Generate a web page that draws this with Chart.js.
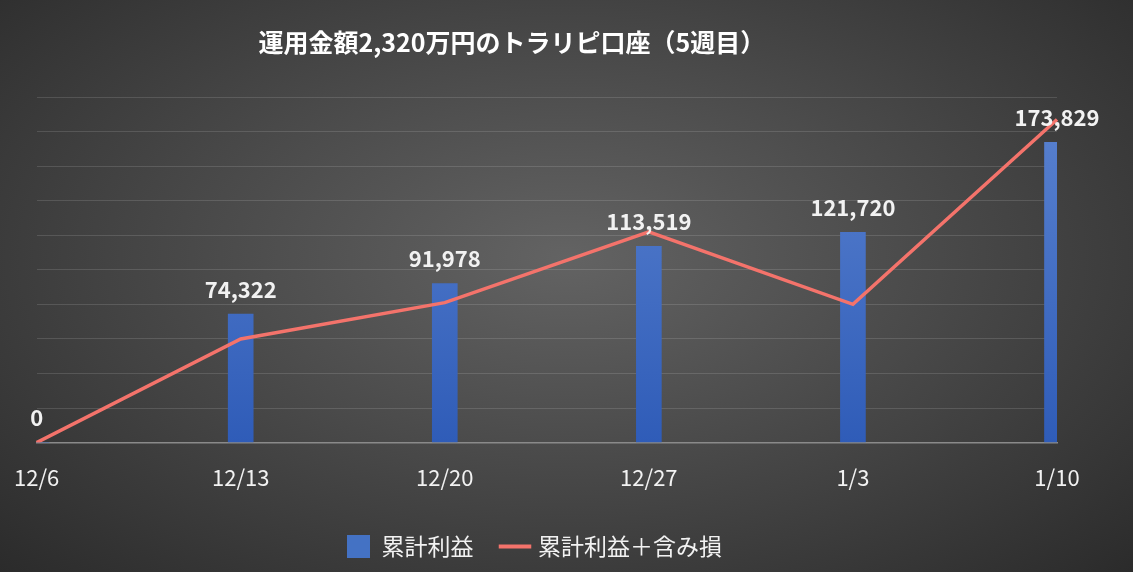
<!DOCTYPE html>
<html><head><meta charset="utf-8">
<script src="https://cdn.jsdelivr.net/npm/chart.js@4"></script>
<style>
html,body{margin:0;padding:0;}
#wrap{width:1133px;height:572px;background:radial-gradient(ellipse at 50% 45%,#636363 0%,#4a4a4a 45%,#2b2b2b 100%);}
</style></head><body>
<div id="wrap"><canvas id="c" width="1133" height="572"></canvas></div>
<script>
const categories=['12/6','12/13','12/20','12/27','1/3','1/10'];
const profit=[0,74322,91978,113519,121720,173829];
const profitWithUnrealized=[0,60000,81000,122000,80000,187000];
const title='運用金額2,320万円のトラリピ口座（5週目）';
const F='"Noto Sans CJK JP","Noto Sans",sans-serif';

const labelPlugin={id:'lbl',afterDatasetsDraw(ch){
  const ctx=ch.ctx,meta=ch.getDatasetMeta(0);
  ctx.save();ctx.fillStyle='#f2f2f2';ctx.font='bold 22px '+F;ctx.textAlign='center';ctx.textBaseline='bottom';
  meta.data.forEach((b,i)=>{ctx.fillText(profit[i].toLocaleString('en-US'),b.x,b.y-14);});
  ctx.font='bold 25px '+F;ctx.fillStyle='#ffffff';ctx.textBaseline='middle';
  ctx.fillText(title,(ch.chartArea.left+ch.chartArea.right)/2-35,42);
  ctx.restore();}};

new Chart(document.getElementById('c'),{
  data:{labels:categories,datasets:[
    {type:'bar',label:'累計利益',data:profit,barThickness:25,order:2,
     backgroundColor:(c)=>{const a=c.chart.chartArea;if(!a)return '#4472c4';const g=c.chart.ctx.createLinearGradient(0,a.top,0,a.bottom);g.addColorStop(0,'#5b83d0');g.addColorStop(1,'#2f5cb8');return g;}},
    {type:'line',label:'累計利益＋含み損',data:profitWithUnrealized,borderColor:'#f4736b',backgroundColor:'#f4736b',borderWidth:3.5,pointRadius:0,tension:0,order:1}
  ]},
  options:{responsive:false,animation:false,
    layout:{padding:{left:12,right:76,top:97,bottom:4}},
    plugins:{
      title:{display:false},
      legend:{position:'bottom',labels:{color:'#f2f2f2',font:{family:F,size:23},usePointStyle:true,padding:30,
        generateLabels(ch){return [
          {text:'累計利益',fillStyle:'#4472c4',strokeStyle:'#4472c4',pointStyle:'rect',fontColor:'#f2f2f2',lineWidth:0,datasetIndex:0},
          {text:'累計利益＋含み損',fillStyle:'#f4736b',strokeStyle:'#f4736b',pointStyle:'line',fontColor:'#f2f2f2',lineWidth:4,datasetIndex:1}];}}},
      tooltip:{enabled:false}},
    scales:{
      x:{offset:false,grid:{display:false,drawTicks:true},border:{color:'#8a8a8a',width:1.5},
         ticks:{color:'#f2f2f2',font:{family:F,size:22},padding:14}},
      y:{min:0,max:200000,ticks:{stepSize:20000,display:false},border:{display:false},
         grid:{color:'rgba(255,255,255,0.13)',drawTicks:false}}
    }},
  plugins:[labelPlugin]
});
</script></body></html>
